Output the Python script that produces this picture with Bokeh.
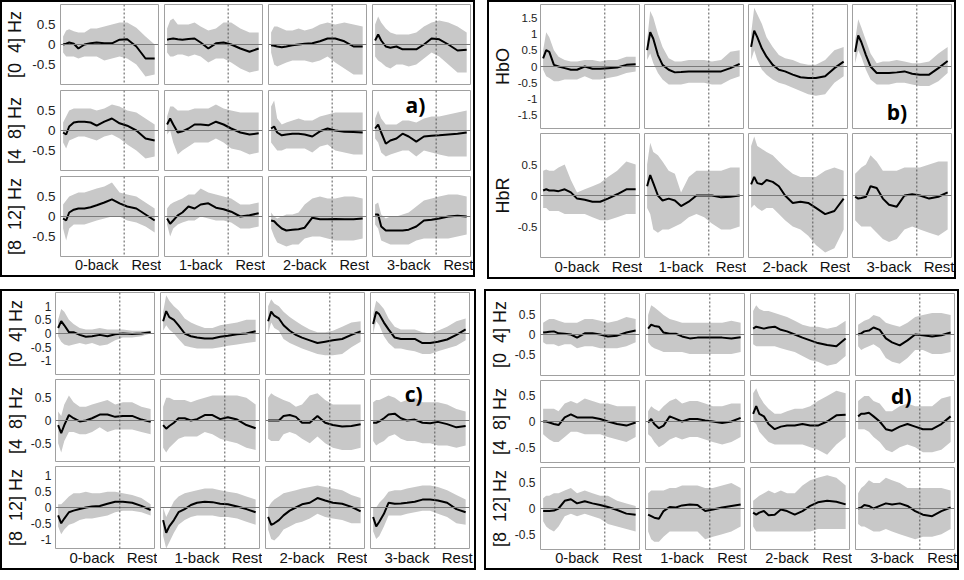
from bokeh.plotting import figure
from bokeh.models import Span, Label, FixedTicker, Range1d
from bokeh.layouts import row, column
from bokeh.embed import file_html
from bokeh.resources import INLINE

# ---------------- data ----------------
T = [0, 2, 4, 7, 10, 14, 18, 22, 27, 32, 37, 42, 48, 54, 60]   # seconds
REST_ONSET = 40
TASKS = ["0-back", "1-back", "2-back", "3-back"]
REST_LABEL = "Rest"
BAND_ROWS = ["[0 \u00a04] Hz", "[4 \u00a08] Hz", "[8 \u00a012] Hz"]
HB_ROWS = ["HbO", "HbR"]

# panel a
a_mean = [
    [[0, 0.02, 0.05, 0.02, -0.1, 0, 0.03, 0.05, 0.03, 0.03, 0.12, 0.13, -0.05, -0.35, -0.35],
     [0.12, 0.14, 0.15, 0.13, 0.12, 0.14, 0.15, 0.05, -0.1, 0.03, 0.05, 0.0, -0.1, -0.18, -0.1],
     [-0.02, -0.03, -0.05, -0.07, -0.05, -0.02, 0.0, 0.02, 0.03, 0.08, 0.15, 0.15, 0.08, -0.05, -0.05],
     [0.1, 0.25, 0.1, -0.05, -0.08, -0.05, -0.12, -0.12, -0.12, 0.0, 0.15, 0.13, 0.0, -0.15, -0.13]],
    [[-0.05, -0.1, 0.1, 0.2, 0.22, 0.22, 0.2, 0.12, 0.22, 0.3, 0.18, 0.12, 0.0, -0.2, -0.25],
     [0.15, 0.3, 0.15, -0.05, -0.02, 0.05, 0.15, 0.15, 0.13, 0.22, 0.15, 0.05, -0.05, -0.1, -0.07],
     [0.05, 0.1, -0.05, -0.12, -0.1, -0.08, -0.08, -0.1, -0.15, -0.02, 0.05, 0.0, -0.03, -0.04, -0.05],
     [0.05, 0.15, -0.05, -0.33, -0.25, -0.2, -0.08, -0.15, -0.28, -0.15, -0.13, -0.12, -0.1, -0.08, -0.05]],
    [[-0.05, -0.1, 0.1, 0.17, 0.2, 0.2, 0.23, 0.28, 0.35, 0.43, 0.33, 0.25, 0.2, 0.05, -0.1],
     [-0.05, -0.18, -0.1, 0.03, 0.1, 0.25, 0.2, 0.3, 0.33, 0.22, 0.18, 0.12, 0.0, 0.03, 0.08],
     [-0.1, -0.12, -0.2, -0.3, -0.35, -0.33, -0.32, -0.28, -0.03, -0.07, -0.07, -0.06, -0.07, -0.07, -0.05],
     [0.05, 0.05, -0.25, -0.35, -0.35, -0.35, -0.35, -0.33, -0.25, -0.1, -0.08, -0.05, 0.0, 0.02, 0.0]],
]
a_upper = [
    [[0.2, 0.35, 0.38, 0.33, 0.3, 0.3, 0.4, 0.4, 0.45, 0.5, 0.55, 0.55, 0.42, 0.2, 0.0],
     [0.4, 0.6, 0.65, 0.5, 0.5, 0.5, 0.55, 0.45, 0.35, 0.4, 0.55, 0.55, 0.4, 0.3, 0.3],
     [0.3, 0.45, 0.45, 0.4, 0.35, 0.35, 0.4, 0.35, 0.4, 0.5, 0.55, 0.5, 0.55, 0.5, 0.45],
     [0.5, 0.7, 0.55, 0.4, 0.3, 0.25, 0.25, 0.25, 0.3, 0.45, 0.55, 0.6, 0.55, 0.45, 0.3]],
    [[0.2, 0.35, 0.5, 0.55, 0.55, 0.55, 0.55, 0.5, 0.55, 0.65, 0.6, 0.5, 0.45, 0.3, 0.15],
     [0.35, 0.6, 0.6, 0.5, 0.5, 0.5, 0.55, 0.55, 0.55, 0.65, 0.55, 0.5, 0.45, 0.45, 0.45],
     [0.6, 0.75, 0.3, 0.15, 0.2, 0.25, 0.3, 0.25, 0.25, 0.35, 0.4, 0.45, 0.45, 0.45, 0.45],
     [0.3, 0.5, 0.3, 0.15, 0.15, 0.15, 0.25, 0.25, 0.2, 0.3, 0.35, 0.35, 0.4, 0.45, 0.5]],
    [[0.3, 0.4, 0.5, 0.55, 0.6, 0.6, 0.65, 0.7, 0.75, 0.85, 0.6, 0.55, 0.5, 0.35, 0.2],
     [0.2, 0.3, 0.35, 0.4, 0.45, 0.55, 0.55, 0.7, 0.6, 0.55, 0.5, 0.45, 0.3, 0.3, 0.35],
     [0.1, 0.0, -0.05, 0.0, 0.05, 0.05, 0.1, 0.3, 0.45, 0.5, 0.45, 0.45, 0.5, 0.5, 0.45],
     [0.3, 0.35, 0.05, -0.05, 0.0, 0.0, 0.05, 0.1, 0.25, 0.4, 0.45, 0.5, 0.55, 0.55, 0.5]],
]
a_lower = [
    [[-0.2, -0.3, -0.3, -0.3, -0.35, -0.3, -0.3, -0.3, -0.4, -0.35, -0.3, -0.35, -0.5, -0.8, -0.75],
     [-0.2, -0.3, -0.3, -0.25, -0.25, -0.3, -0.25, -0.3, -0.45, -0.35, -0.35, -0.45, -0.6, -0.7, -0.65],
     [-0.2, -0.5, -0.55, -0.5, -0.45, -0.4, -0.4, -0.4, -0.45, -0.4, -0.3, -0.45, -0.6, -0.75, -0.75],
     [-0.3, -0.4, -0.45, -0.55, -0.6, -0.5, -0.5, -0.55, -0.5, -0.35, -0.2, -0.3, -0.5, -0.7, -0.7]],
    [[-0.3, -0.45, -0.25, -0.2, -0.15, -0.15, -0.2, -0.25, -0.15, -0.1, -0.2, -0.35, -0.5, -0.7, -0.65],
     [-0.1, 0.0, -0.3, -0.6, -0.5, -0.4, -0.3, -0.3, -0.3, -0.2, -0.3, -0.45, -0.5, -0.6, -0.55],
     [-0.3, -0.4, -0.5, -0.5, -0.45, -0.45, -0.45, -0.45, -0.55, -0.4, -0.35, -0.5, -0.55, -0.6, -0.6],
     [-0.2, -0.3, -0.55, -0.65, -0.6, -0.55, -0.5, -0.5, -0.65, -0.5, -0.55, -0.6, -0.65, -0.65, -0.65]],
    [[-0.3, -0.6, -0.3, -0.2, -0.2, -0.2, -0.15, -0.1, -0.05, 0.0, 0.0, -0.1, -0.15, -0.25, -0.4],
     [-0.2, -0.5, -0.3, -0.2, -0.15, -0.1, -0.1, 0.0, -0.05, -0.1, -0.1, -0.15, -0.3, -0.3, -0.25],
     [-0.3, -0.5, -0.65, -0.7, -0.75, -0.7, -0.7, -0.55, -0.5, -0.5, -0.55, -0.6, -0.6, -0.6, -0.55],
     [-0.2, -0.3, -0.6, -0.65, -0.7, -0.7, -0.7, -0.7, -0.6, -0.55, -0.55, -0.55, -0.55, -0.5, -0.45]],
]

# panel b
b_mean = [
    [[0.25, 0.5, 0.45, 0.05, 0.0, -0.05, -0.1, -0.1, 0.0, -0.07, -0.07, -0.05, -0.03, 0.05, 0.07],
     [0.5, 1.05, 0.85, 0.35, 0.05, -0.1, -0.18, -0.17, -0.15, -0.15, -0.15, -0.15, -0.15, -0.05, 0.08],
     [0.6, 1.1, 0.9, 0.55, 0.3, 0.05, -0.1, -0.15, -0.25, -0.33, -0.35, -0.35, -0.3, -0.05, 0.15],
     [0.45, 0.95, 0.75, 0.35, 0.0, -0.2, -0.2, -0.2, -0.18, -0.15, -0.22, -0.25, -0.25, -0.05, 0.17]],
    [[0.08, 0.1, 0.08, 0.08, 0.07, 0.1, 0.05, -0.05, -0.07, -0.1, -0.1, -0.05, 0.02, 0.1, 0.1],
     [0.15, 0.33, 0.2, 0.0, -0.08, -0.05, -0.08, -0.17, -0.1, 0.0, 0.0, 0.0, -0.03, -0.02, 0.0],
     [0.18, 0.3, 0.2, 0.18, 0.25, 0.22, 0.15, 0.0, -0.12, -0.1, -0.12, -0.2, -0.3, -0.25, -0.05],
     [-0.02, -0.05, -0.04, -0.02, 0.15, 0.12, -0.05, -0.15, -0.18, 0.0, 0.02, 0.0, -0.05, -0.02, 0.05]],
]
b_upper = [
    [[0.5, 1.05, 0.9, 0.5, 0.3, 0.2, 0.15, 0.15, 0.2, 0.2, 0.15, 0.2, 0.2, 0.3, 0.3],
     [0.8, 1.7, 1.5, 1.0, 0.6, 0.25, 0.15, 0.15, 0.2, 0.2, 0.2, 0.15, 0.2, 0.45, 0.5],
     [1.0, 1.8, 1.6, 1.3, 0.9, 0.6, 0.35, 0.25, 0.2, 0.1, 0.05, 0.05, 0.2, 0.5, 0.6],
     [0.8, 1.45, 1.2, 0.8, 0.4, 0.1, 0.15, 0.15, 0.2, 0.15, 0.1, 0.1, 0.15, 0.4, 0.6]],
    [[0.4, 0.42, 0.4, 0.4, 0.45, 0.5, 0.25, 0.05, 0.1, 0.15, 0.2, 0.3, 0.4, 0.55, 0.5],
     [0.5, 0.85, 0.7, 0.65, 0.55, 0.4, 0.35, 0.05, 0.3, 0.4, 0.4, 0.4, 0.4, 0.45, 0.45],
     [0.8, 0.95, 0.8, 0.75, 0.7, 0.65, 0.55, 0.45, 0.35, 0.3, 0.3, 0.3, 0.4, 0.45, 0.4],
     [0.35, 0.4, 0.45, 0.5, 0.65, 0.55, 0.4, 0.4, 0.4, 0.45, 0.45, 0.45, 0.5, 0.55, 0.55]],
]
b_lower = [
    [[-0.1, -0.3, -0.35, -0.45, -0.45, -0.4, -0.4, -0.4, -0.3, -0.4, -0.4, -0.35, -0.3, -0.2, -0.15],
     [0.2, 0.4, 0.1, -0.2, -0.4, -0.55, -0.55, -0.55, -0.5, -0.5, -0.5, -0.55, -0.55, -0.4, -0.3],
     [0.2, 0.5, 0.2, -0.1, -0.25, -0.4, -0.5, -0.55, -0.65, -0.75, -0.85, -0.9, -0.85, -0.5, -0.3],
     [0.1, 0.5, 0.3, -0.1, -0.4, -0.55, -0.55, -0.55, -0.5, -0.5, -0.55, -0.6, -0.6, -0.45, -0.2]],
    [[-0.2, -0.2, -0.25, -0.25, -0.25, -0.3, -0.3, -0.3, -0.3, -0.35, -0.4, -0.4, -0.35, -0.3, -0.3],
     [-0.2, -0.3, -0.55, -0.6, -0.55, -0.55, -0.5, -0.45, -0.35, -0.3, -0.35, -0.45, -0.55, -0.55, -0.5],
     [-0.2, -0.15, -0.2, -0.25, -0.2, -0.2, -0.3, -0.4, -0.5, -0.55, -0.65, -0.8, -0.92, -0.85, -0.55],
     [-0.4, -0.45, -0.5, -0.5, -0.5, -0.6, -0.7, -0.75, -0.7, -0.55, -0.5, -0.55, -0.6, -0.65, -0.55]],
]

# panel c
c_mean = [
    [[0.2, 0.45, 0.3, 0.05, 0.05, -0.05, -0.12, -0.1, -0.05, -0.1, -0.03, 0.0, -0.02, 0.0, 0.05],
     [0.45, 0.82, 0.6, 0.5, 0.3, 0.0, -0.1, -0.15, -0.18, -0.18, -0.12, -0.08, -0.03, 0.0, 0.08],
     [0.45, 0.8, 0.65, 0.55, 0.3, 0.1, -0.05, -0.15, -0.25, -0.35, -0.3, -0.25, -0.2, -0.05, 0.08],
     [0.35, 0.8, 0.7, 0.4, 0.15, -0.15, -0.2, -0.2, -0.2, -0.35, -0.35, -0.3, -0.22, -0.05, 0.15]],
    [[-0.1, -0.28, -0.1, 0.12, 0.05, -0.02, 0.0, 0.05, 0.13, 0.13, 0.08, 0.1, 0.1, 0.02, -0.03],
     [-0.1, -0.18, -0.12, -0.05, 0.05, 0.05, 0.0, 0.03, 0.12, 0.12, 0.03, 0.07, 0.02, -0.1, -0.17],
     [0.0, 0.0, 0.0, 0.0, 0.1, 0.12, 0.08, -0.05, -0.05, 0.1, -0.05, -0.1, -0.13, -0.12, -0.08],
     [-0.05, -0.05, -0.02, 0.05, 0.13, 0.15, 0.05, 0.0, 0.02, -0.05, -0.06, -0.03, -0.08, -0.15, -0.12]],
    [[-0.25, -0.5, -0.35, -0.15, -0.1, -0.05, 0.0, 0.03, 0.05, 0.12, 0.18, 0.18, 0.15, 0.05, -0.08],
     [-0.4, -0.8, -0.6, -0.4, -0.15, -0.05, 0.08, 0.15, 0.18, 0.17, 0.12, 0.1, 0.03, -0.05, -0.15],
     [-0.3, -0.55, -0.5, -0.4, -0.25, -0.1, 0.0, 0.1, 0.15, 0.3, 0.22, 0.15, 0.12, 0.02, -0.12],
     [-0.3, -0.6, -0.45, -0.2, 0.15, 0.12, 0.13, 0.15, 0.18, 0.25, 0.25, 0.22, 0.15, -0.05, -0.15]],
]
c_upper = [
    [[0.5, 0.9, 0.8, 0.5, 0.35, 0.2, 0.15, 0.15, 0.2, 0.15, 0.15, 0.15, 0.1, 0.1, 0.1],
     [0.8, 1.4, 1.2, 1.0, 0.85, 0.55, 0.4, 0.3, 0.2, 0.2, 0.3, 0.35, 0.4, 0.5, 0.5],
     [1.0, 1.25, 1.1, 1.0, 0.8, 0.6, 0.45, 0.3, 0.15, 0.05, 0.05, 0.1, 0.25, 0.4, 0.45],
     [0.7, 1.2, 1.1, 0.9, 0.55, 0.25, 0.15, 0.15, 0.15, 0.05, 0.0, 0.1, 0.25, 0.45, 0.55]],
    [[0.2, 0.1, 0.35, 0.55, 0.4, 0.3, 0.3, 0.35, 0.4, 0.45, 0.35, 0.4, 0.4, 0.3, 0.25],
     [0.3, 0.5, 0.5, 0.45, 0.45, 0.45, 0.4, 0.45, 0.5, 0.55, 0.55, 0.55, 0.55, 0.5, 0.35],
     [0.5, 0.6, 0.55, 0.5, 0.45, 0.4, 0.3, 0.35, 0.55, 0.6, 0.45, 0.35, 0.35, 0.35, 0.35],
     [0.4, 0.45, 0.45, 0.5, 0.55, 0.5, 0.4, 0.45, 0.5, 0.4, 0.4, 0.4, 0.35, 0.25, 0.2]],
    [[0.1, 0.1, 0.2, 0.35, 0.45, 0.45, 0.5, 0.45, 0.45, 0.5, 0.5, 0.45, 0.4, 0.3, 0.1],
     [0.0, -0.3, -0.1, 0.2, 0.35, 0.45, 0.5, 0.55, 0.6, 0.6, 0.55, 0.5, 0.45, 0.35, 0.25],
     [0.0, 0.15, 0.25, 0.35, 0.45, 0.5, 0.55, 0.6, 0.65, 0.7, 0.65, 0.6, 0.55, 0.4, 0.3],
     [0.0, 0.0, 0.15, 0.3, 0.5, 0.55, 0.55, 0.6, 0.65, 0.7, 0.7, 0.65, 0.55, 0.4, 0.25]],
]
c_lower = [
    [[-0.1, -0.3, -0.4, -0.45, -0.4, -0.35, -0.4, -0.35, -0.45, -0.4, -0.25, -0.15, -0.15, -0.1, 0.0],
     [0.1, 0.3, 0.15, 0.0, -0.2, -0.45, -0.5, -0.55, -0.55, -0.55, -0.5, -0.45, -0.4, -0.35, -0.3],
     [0.0, 0.4, 0.2, 0.1, -0.2, -0.35, -0.45, -0.55, -0.65, -0.75, -0.8, -0.8, -0.75, -0.5, -0.3],
     [0.0, 0.45, 0.3, -0.1, -0.35, -0.55, -0.55, -0.6, -0.65, -0.75, -0.75, -0.65, -0.55, -0.45, -0.25]],
    [[-0.5, -0.7, -0.45, -0.25, -0.25, -0.3, -0.3, -0.25, -0.15, -0.25, -0.2, -0.2, -0.2, -0.25, -0.3],
     [-0.6, -0.7, -0.6, -0.5, -0.4, -0.35, -0.35, -0.35, -0.25, -0.3, -0.4, -0.45, -0.5, -0.6, -0.65],
     [-0.4, -0.45, -0.45, -0.45, -0.3, -0.25, -0.3, -0.4, -0.5, -0.35, -0.5, -0.6, -0.65, -0.65, -0.6],
     [-0.45, -0.55, -0.5, -0.45, -0.35, -0.3, -0.4, -0.45, -0.45, -0.5, -0.5, -0.55, -0.55, -0.6, -0.55]],
    [[-0.6, -0.85, -0.7, -0.55, -0.5, -0.4, -0.35, -0.35, -0.3, -0.25, -0.15, -0.1, -0.1, -0.15, -0.25],
     [-0.9, -1.3, -1.1, -0.8, -0.55, -0.4, -0.3, -0.25, -0.25, -0.25, -0.3, -0.3, -0.35, -0.45, -0.55],
     [-0.7, -1.0, -1.05, -0.9, -0.7, -0.6, -0.5, -0.45, -0.35, -0.2, -0.3, -0.35, -0.4, -0.5, -0.5],
     [-0.75, -1.0, -0.9, -0.6, -0.25, -0.25, -0.25, -0.2, -0.15, -0.1, -0.1, -0.2, -0.3, -0.5, -0.55]],
]

# panel d
d_mean = [
    [[0.05, 0.06, 0.07, 0.08, 0.03, 0.02, 0.0, -0.08, 0.03, 0.03, 0.0, -0.05, -0.03, 0.05, 0.1],
     [0.15, 0.25, 0.22, 0.2, 0.05, 0.02, 0.02, -0.05, -0.1, -0.08, -0.08, -0.08, -0.08, -0.1, -0.07],
     [0.15, 0.2, 0.18, 0.15, 0.18, 0.2, 0.12, 0.08, 0.0, -0.08, -0.15, -0.22, -0.27, -0.3, -0.1],
     [0.0, 0.03, 0.08, 0.1, 0.18, 0.12, -0.1, -0.2, -0.28, -0.15, 0.0, -0.02, -0.05, -0.02, 0.05]],
    [[0.0, 0.0, -0.02, -0.05, -0.07, 0.08, 0.14, 0.08, 0.08, 0.08, 0.05, 0.0, -0.05, -0.08, -0.02],
     [-0.02, 0.05, -0.05, -0.13, -0.08, 0.1, 0.05, 0.0, 0.05, 0.05, 0.02, 0.0, -0.03, 0.0, 0.07],
     [0.15, 0.3, 0.15, 0.1, -0.05, -0.15, -0.1, -0.08, -0.08, -0.05, -0.08, -0.08, 0.0, 0.12, 0.13],
     [0.1, 0.15, 0.15, 0.17, 0.1, 0.0, -0.15, -0.18, -0.1, -0.05, -0.1, -0.15, -0.15, -0.05, 0.1]],
    [[-0.05, -0.05, -0.05, -0.04, 0.0, 0.15, 0.18, 0.1, 0.14, 0.1, 0.07, 0.03, -0.03, -0.1, -0.12],
     [-0.12, -0.15, -0.18, -0.2, -0.05, 0.03, 0.02, 0.06, 0.08, 0.07, -0.05, -0.02, 0.02, 0.05, 0.08],
     [-0.08, -0.12, -0.08, -0.05, -0.13, -0.12, -0.02, -0.05, -0.12, -0.05, 0.05, 0.12, 0.15, 0.13, 0.08],
     [0.0, 0.02, 0.07, 0.05, 0.0, 0.05, 0.1, 0.08, 0.1, 0.05, -0.05, -0.12, -0.15, -0.05, 0.02]],
]
d_upper = [
    [[0.3, 0.35, 0.4, 0.4, 0.35, 0.3, 0.3, 0.3, 0.4, 0.4, 0.35, 0.3, 0.35, 0.45, 0.4],
     [0.5, 0.75, 0.7, 0.6, 0.5, 0.4, 0.35, 0.3, 0.3, 0.3, 0.3, 0.3, 0.3, 0.35, 0.3],
     [0.6, 0.75, 0.65, 0.6, 0.6, 0.55, 0.5, 0.45, 0.35, 0.25, 0.2, 0.2, 0.15, 0.2, 0.35],
     [0.25, 0.3, 0.35, 0.4, 0.5, 0.45, 0.3, 0.25, 0.2, 0.3, 0.45, 0.5, 0.55, 0.55, 0.5]],
    [[0.25, 0.25, 0.25, 0.25, 0.2, 0.35, 0.4, 0.35, 0.45, 0.4, 0.35, 0.35, 0.3, 0.3, 0.3],
     [0.2, 0.3, 0.25, 0.2, 0.3, 0.4, 0.45, 0.35, 0.4, 0.4, 0.35, 0.3, 0.3, 0.35, 0.35],
     [0.55, 0.65, 0.5, 0.35, 0.25, 0.15, 0.15, 0.2, 0.25, 0.25, 0.3, 0.4, 0.5, 0.6, 0.55],
     [0.4, 0.45, 0.5, 0.5, 0.4, 0.35, 0.2, 0.2, 0.3, 0.35, 0.3, 0.3, 0.3, 0.45, 0.5]],
    [[0.2, 0.25, 0.25, 0.3, 0.3, 0.35, 0.4, 0.3, 0.35, 0.3, 0.25, 0.25, 0.15, 0.1, 0.05],
     [0.3, 0.35, 0.35, 0.35, 0.35, 0.4, 0.4, 0.45, 0.45, 0.45, 0.4, 0.4, 0.45, 0.5, 0.4],
     [0.15, 0.2, 0.25, 0.3, 0.35, 0.3, 0.35, 0.3, 0.3, 0.45, 0.55, 0.6, 0.65, 0.6, 0.45],
     [0.3, 0.4, 0.45, 0.55, 0.5, 0.5, 0.6, 0.55, 0.5, 0.4, 0.4, 0.4, 0.4, 0.4, 0.35]],
]
d_lower = [
    [[-0.2, -0.25, -0.25, -0.25, -0.3, -0.25, -0.25, -0.35, -0.3, -0.3, -0.35, -0.35, -0.35, -0.3, -0.2],
     [-0.2, -0.3, -0.35, -0.4, -0.45, -0.45, -0.45, -0.45, -0.5, -0.5, -0.5, -0.5, -0.5, -0.5, -0.45],
     [-0.25, -0.3, -0.3, -0.3, -0.3, -0.3, -0.35, -0.4, -0.45, -0.55, -0.65, -0.7, -0.8, -0.75, -0.55],
     [-0.3, -0.4, -0.35, -0.3, -0.25, -0.35, -0.6, -0.7, -0.75, -0.6, -0.4, -0.4, -0.5, -0.5, -0.45]],
    [[-0.25, -0.3, -0.35, -0.4, -0.4, -0.3, -0.2, -0.2, -0.25, -0.25, -0.25, -0.3, -0.35, -0.4, -0.3],
     [-0.25, -0.3, -0.4, -0.5, -0.45, -0.35, -0.3, -0.35, -0.3, -0.3, -0.35, -0.4, -0.45, -0.4, -0.3],
     [0.0, -0.05, -0.2, -0.3, -0.4, -0.45, -0.45, -0.45, -0.45, -0.45, -0.5, -0.55, -0.65, -0.45, -0.3],
     [-0.15, -0.15, -0.15, -0.2, -0.3, -0.4, -0.55, -0.6, -0.5, -0.45, -0.5, -0.6, -0.6, -0.55, -0.4]],
    [[-0.25, -0.35, -0.4, -0.45, -0.35, -0.15, -0.1, -0.15, -0.1, -0.15, -0.2, -0.3, -0.35, -0.4, -0.45],
     [-0.45, -0.6, -0.65, -0.65, -0.55, -0.45, -0.45, -0.45, -0.45, -0.45, -0.6, -0.55, -0.5, -0.45, -0.35],
     [-0.35, -0.45, -0.45, -0.45, -0.45, -0.45, -0.45, -0.45, -0.45, -0.45, -0.45, -0.4, -0.4, -0.4, -0.4],
     [-0.3, -0.35, -0.35, -0.4, -0.45, -0.45, -0.4, -0.45, -0.5, -0.55, -0.6, -0.55, -0.55, -0.5, -0.4]],
]

# axis settings per panel row
A_YLIM = [(-1, 1), (-1, 1), (-1, 1)]
A_YTICKS = [[-0.5, 0, 0.5]] * 3
B_YLIM = [(-1.9, 1.9), (-1, 1)]
B_YTICKS = [[-1.5, -1, -0.5, 0, 0.5, 1, 1.5], [-0.5, 0, 0.5]]
C_YLIM = [(-1.5, 1.5), (-0.9, 0.9), (-1.3, 1.3)]
C_YTICKS = [[-1, -0.5, 0, 0.5, 1], [-0.5, 0, 0.5], [-1, -0.5, 0, 0.5, 1]]
D_YLIM = [(-1.05, 1.05), (-0.8, 0.8), (-0.8, 0.8)]
D_YTICKS = [[-0.5, 0, 0.5]] * 3
XTICK_POS = [22, 54.5]
XLIM = (-1.7, 62.5)

FONT = "Liberation Sans"
BAND = "#c8c8c8"


def fmt(v):
    return str(int(v)) if float(v).is_integer() else str(v)


def make_panel(mean, upper, lower, row_labels, ylims, yticks, cfg, tag, tag_pos):
    nrows = len(mean)
    rows = []
    for r in range(nrows):
        figs = []
        for c in range(4):
            first, last = c == 0, r == nrows - 1
            bl = cfg["left"] if first else cfg["gap_l"]
            br = cfg["right"] if c == 3 else cfg["gap_r"]
            bt = cfg["top"] if r == 0 else cfg["vgap_t"]
            bb = cfg["bottom"] if last else cfg["vgap_b"]
            p = figure(frame_width=cfg["fw"], frame_height=cfg["fh"],
                       x_range=Range1d(*XLIM), y_range=Range1d(*ylims[r]),
                       output_backend="svg", toolbar_location=None,
                       x_axis_location="below" if last else None,
                       y_axis_location="left" if first else None,
                       min_border_left=bl, min_border_right=br,
                       min_border_top=bt, min_border_bottom=bb)
            p.grid.visible = False
            p.outline_line_color = "#a0a0a0"
            p.outline_line_width = 1
            p.varea(x=T, y1=lower[r][c], y2=upper[r][c], fill_color=BAND)
            z = Span(location=0, dimension="width", line_color="#7a7a7a", line_width=1, level="glyph")
            p.add_layout(z)
            v = Span(location=REST_ONSET, dimension="height", line_color="#555555",
                     line_width=1, line_dash="2 2", level="glyph")
            p.add_layout(v)
            p.line(x=T, y=mean[r][c], line_color="black", line_width=2)
            if first:
                ax = p.yaxis[0]
                ax.ticker = FixedTicker(ticks=yticks[r])
                ax.major_label_overrides = {t: fmt(t) for t in yticks[r]}
                ax.axis_line_color = None
                ax.major_tick_line_color = None
                ax.minor_tick_line_color = None
                ax.major_tick_out = 0
                ax.major_tick_in = 0
                ax.minor_tick_out = 0
                ax.minor_tick_in = 0
                ax.major_label_text_font = FONT
                ax.major_label_text_font_size = cfg["tick_fs"]
                ax.major_label_text_color = "#222222"
                ax.major_label_standoff = cfg["tick_standoff"]
                ax.axis_label = row_labels[r]
                ax.axis_label_text_font = FONT
                ax.axis_label_text_font_size = cfg["ylab_fs"]
                ax.axis_label_text_font_style = "normal"
                ax.axis_label_text_color = "#111111"
                ax.axis_label_standoff = cfg["ylab_standoff"]
            if last:
                ax = p.xaxis[0]
                ax.ticker = FixedTicker(ticks=XTICK_POS)
                ax.major_label_overrides = {XTICK_POS[0]: TASKS[c], XTICK_POS[1]: REST_LABEL}
                ax.axis_line_color = None
                ax.major_tick_line_color = None
                ax.minor_tick_line_color = None
                ax.major_tick_out = 0
                ax.major_tick_in = 0
                ax.minor_tick_out = 0
                ax.minor_tick_in = 0
                ax.major_label_text_font = FONT
                ax.major_label_text_font_size = cfg["xlab_fs"]
                ax.major_label_text_color = "#111111"
                ax.major_label_standoff = 0
            if (r, c) == tag_pos[0]:
                p.add_layout(Label(x=tag_pos[1], y=tag_pos[2], text=tag,
                                   text_font="Open Sans", text_font_style="bold",
                                   text_font_size="21px", text_baseline="top",
                                   text_color="black"))
            figs.append(p)
        rows.append(row(*figs, spacing=0))
    return column(*rows, spacing=0, styles={"border": "2px solid black"})


cfg_a = dict(fw=98, fh=80, left=54, right=3, gap_l=3, gap_r=3, top=2, vgap_t=3, vgap_b=3,
             bottom=14, tick_fs="13.5px", tick_standoff=5, ylab_fs="18px", ylab_standoff=4, xlab_fs="14.5px")
cfg_b = dict(fw=99, fh=124, left=45, right=3, gap_l=2, gap_r=3, top=2, vgap_t=3, vgap_b=2,
             bottom=14, tick_fs="11.5px", tick_standoff=3, ylab_fs="18px", ylab_standoff=2, xlab_fs="15px")
cfg_c = dict(fw=99, fh=82, left=48, right=5, gap_l=3, gap_r=3, top=1, vgap_t=3, vgap_b=2,
             bottom=13, tick_fs="12px", tick_standoff=4, ylab_fs="18px", ylab_standoff=2, xlab_fs="15px")
cfg_d = dict(fw=99, fh=82, left=47, right=3, gap_l=3, gap_r=3, top=2, vgap_t=3, vgap_b=2,
             bottom=14, tick_fs="12px", tick_standoff=5, ylab_fs="18px", ylab_standoff=2, xlab_fs="14.5px")

pa = make_panel(a_mean, a_upper, a_lower, BAND_ROWS, A_YLIM, A_YTICKS, cfg_a, "a)", ((1, 3), 20, 1.0))
pb = make_panel(b_mean, b_upper, b_lower, HB_ROWS, B_YLIM, B_YTICKS, cfg_b, "b)", ((0, 3), 20.5, -0.98))
pc = make_panel(c_mean, c_upper, c_lower, BAND_ROWS, C_YLIM, C_YTICKS, cfg_c, "c)", ((1, 3), 20.5, 0.9))
pd = make_panel(d_mean, d_upper, d_lower, BAND_ROWS, D_YLIM, D_YTICKS, cfg_d, "d)", ((1, 3), 21.4, 0.78))

top = row(pa, pb, spacing=12)
bottom = row(pc, pd, spacing=8)
root = column(top, bottom, spacing=10)

open("out.html", "w").write(file_html(root, INLINE))
